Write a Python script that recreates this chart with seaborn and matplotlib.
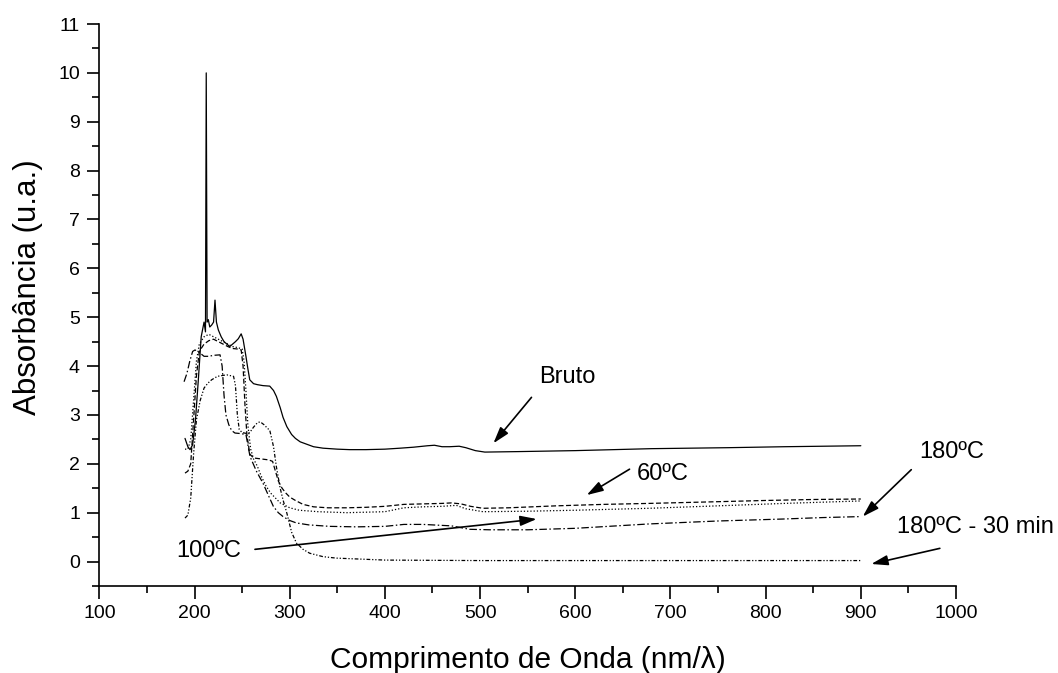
import matplotlib
matplotlib.use("Agg")
import matplotlib.pyplot as plt
from matplotlib.ticker import MultipleLocator
import seaborn as sns
import pandas as pd

# UV-Vis absorbance spectra (wavelength in nm, absorbance in a.u.)
bruto_x = [190, 193, 195.3, 198, 201, 204, 207, 208.5, 210, 211.5, 212.3, 213.2, 214.5, 216, 218,
           220, 221.5, 223, 225, 228, 231, 234, 237, 240, 243, 246, 249, 251, 254, 256, 258, 262,
           266, 272, 279, 283, 286, 290, 293, 297, 302, 306, 311, 318, 325, 335, 350, 363, 380,
           400, 416, 430, 445, 452, 460, 468, 478, 485, 495, 505, 540, 600, 680, 760, 820, 860, 900]
bruto_y = [2.52, 2.35, 2.29, 2.39, 2.9, 3.72, 4.6, 4.75, 4.9, 4.7, 10.0, 4.9, 4.95, 4.8, 4.84,
           4.9, 5.35, 4.9, 4.74, 4.6, 4.5, 4.45, 4.4, 4.45, 4.5, 4.56, 4.66, 4.55, 4.2, 3.95, 3.72, 3.64,
           3.62, 3.6, 3.59, 3.5, 3.38, 3.15, 2.95, 2.76, 2.6, 2.52, 2.45, 2.4, 2.35, 2.32, 2.3, 2.29, 2.29,
           2.3, 2.32, 2.34, 2.37, 2.38, 2.35, 2.35, 2.36, 2.33, 2.27, 2.24, 2.25, 2.27, 2.31, 2.33, 2.35, 2.36, 2.37]

t60_x = [190, 193, 196, 199, 202, 205, 210, 215, 220, 225, 230, 235, 240, 245, 249, 251, 253, 255,
         258, 262, 270, 278, 282, 285, 288, 292, 296, 300, 306, 314, 325, 340, 360, 380, 400, 420,
         440, 460, 470, 480, 490, 503, 530, 580, 630, 678, 740, 800, 850, 900]
t60_y = [1.81, 1.85, 2.0, 2.9, 3.8, 4.3, 4.45, 4.52, 4.55, 4.5, 4.45, 4.4, 4.36, 4.35, 4.33, 4.0, 3.2, 2.6,
         2.2, 2.12, 2.1, 2.08, 2.05, 1.85, 1.65, 1.5, 1.4, 1.32, 1.25, 1.17, 1.12, 1.1, 1.1, 1.11, 1.13, 1.17,
         1.18, 1.19, 1.2, 1.18, 1.13, 1.09, 1.1, 1.14, 1.17, 1.19, 1.22, 1.25, 1.27, 1.28]

t100_x = [190, 193, 196, 199, 202, 205, 210, 215, 220, 225, 230, 235, 240, 245, 250, 252, 254, 256,
          259, 262, 266, 270, 275, 280, 285, 290, 300, 310, 330, 360, 400, 420, 440, 460, 475, 485,
          503, 550, 600, 678, 750, 820, 900]
t100_y = [2.3, 2.3, 2.5, 3.3, 4.1, 4.45, 4.6, 4.65, 4.6, 4.55, 4.5, 4.45, 4.4, 4.38, 4.35, 4.1, 3.5, 2.8,
          2.3, 2.1, 1.95, 1.75, 1.55, 1.4, 1.3, 1.2, 1.1, 1.05, 1.02, 1.0, 1.02, 1.1, 1.12, 1.13, 1.15, 1.08,
          1.02, 1.03, 1.05, 1.09, 1.14, 1.19, 1.24]

t180_x = [189, 192, 195, 198, 200.5, 205, 210, 215, 220, 226.8, 229, 231, 233, 236, 239, 242.5, 248,
          254, 258.3, 265, 272, 277, 282.8, 288, 293, 300, 307, 320, 342, 370, 400, 420, 440, 460, 470,
          489, 510, 550, 600, 678, 750, 818, 860, 900]
t180_y = [3.68, 3.85, 4.1, 4.3, 4.33, 4.28, 4.2, 4.2, 4.22, 4.23, 4.0, 3.4, 3.0, 2.8, 2.68, 2.63, 2.62,
          2.6, 2.15, 1.85, 1.6, 1.38, 1.13, 1.0, 0.92, 0.84, 0.79, 0.75, 0.72, 0.71, 0.72, 0.76, 0.76, 0.74, 0.73,
          0.66, 0.65, 0.65, 0.68, 0.77, 0.83, 0.87, 0.9, 0.92]

t180_30_x = [190, 193, 196, 199, 202, 206, 210, 214, 218, 224, 230, 234, 241, 243, 245, 247, 250, 255,
             258, 262, 266, 269, 273, 277, 279, 283, 286, 290, 293, 297, 302, 307, 314, 321, 335, 349,
             400, 500, 600, 700, 800, 900]
t180_30_y = [0.89, 0.95, 1.3, 2.2, 2.9, 3.3, 3.55, 3.65, 3.72, 3.79, 3.81, 3.82, 3.79, 3.6, 3.0, 2.7, 2.64, 2.62,
             2.64, 2.75, 2.84, 2.86, 2.8, 2.72, 2.69, 2.35, 1.94, 1.5, 1.26, 0.99, 0.6, 0.38, 0.25, 0.17, 0.1, 0.07,
             0.03, 0.02, 0.02, 0.02, 0.02, 0.02]

series_names = ["Bruto", "60ºC", "100ºC", "180ºC", "180ºC - 30 min"]
series_data = [(bruto_x, bruto_y), (t60_x, t60_y), (t100_x, t100_y),
               (t180_x, t180_y), (t180_30_x, t180_30_y)]
line_styles = ["-", (0, (4, 2)), (0, (1, 1.6)), (0, (6, 2, 1.2, 2)), (0, (3, 1.5, 1, 1.5, 1, 1.5))]

x_ticks = list(range(100, 1001, 100))
y_ticks = list(range(0, 12))

sns.set_theme(style="ticks")
plt.rcParams["font.family"] = ["Liberation Sans", "DejaVu Sans"]
plt.rcParams.update({"text.color": "black", "axes.labelcolor": "black",
                     "xtick.color": "black", "ytick.color": "black",
                     "axes.edgecolor": "black"})

fig = plt.figure(figsize=(10.58, 6.73), dpi=100)
ax = fig.add_axes([0.0939, 0.1293, 0.9036 - 0.0939, 0.9643 - 0.1293])

for name, (xs, ys), ls in zip(series_names, series_data, line_styles):
    df = pd.DataFrame({"x": xs, "y": ys})
    sns.lineplot(data=df, x="x", y="y", ax=ax, color="black", linewidth=0.9,
                 linestyle=ls, estimator=None, sort=False)

ax.set_xlim(100, 1000)
ax.set_ylim(-0.5, 11)
ax.set_xticks(x_ticks)
ax.set_yticks(y_ticks)
ax.xaxis.set_minor_locator(MultipleLocator(50))
ax.yaxis.set_minor_locator(MultipleLocator(0.5))
for side in ("top", "right"):
    ax.spines[side].set_visible(False)
for side in ("left", "bottom"):
    ax.spines[side].set_linewidth(1.2)
    ax.spines[side].set_color("black")
ax.tick_params(which="major", direction="out", length=9, width=1.2, colors="black",
               labelcolor="black", labelsize=14, pad=5)
ax.tick_params(which="minor", direction="out", length=5, width=1.2, colors="black")
ax.grid(False)

ax.set_xlabel("Comprimento de Onda (nm/λ)", fontsize=21.5, va="center", color="black")
ax.set_ylabel("Absorbância (u.a.)", fontsize=22.5, va="center", color="black")
ax.xaxis.set_label_coords(0.5, (586 - 660) / 562)
ax.yaxis.set_label_coords((28 - 99.3) / 856.7, (586 - 287) / 562)

arrow = dict(arrowstyle="-|>,head_length=0.55,head_width=0.17", color="black",
             lw=1.2, mutation_scale=18, shrinkA=0, shrinkB=0)

labels_pos = [(592, 3.78), (692, 1.80), (215, 0.22), (995, 2.25), (1020, 0.70)]
label_text = ["Bruto", "60ºC", "100ºC", "180ºC", "180ºC - 30 min"]
arrow_tail = [(554, 3.36), (657, 1.89), (263.5, 0.25), (953, 1.88), (983, 0.27)]
arrow_tip = [(514, 2.42), (612, 1.36), (559.5, 0.87), (902, 0.92), (911, -0.05)]

for txt, pos in zip(label_text, labels_pos):
    ax.text(pos[0], pos[1], txt, fontsize=17, ha="center", va="center", clip_on=False,
            color="black")
for tail, tip in zip(arrow_tail, arrow_tip):
    ax.annotate("", xy=tip, xytext=tail, arrowprops=arrow, annotation_clip=False)

fig.savefig("out.png", dpi=100)
